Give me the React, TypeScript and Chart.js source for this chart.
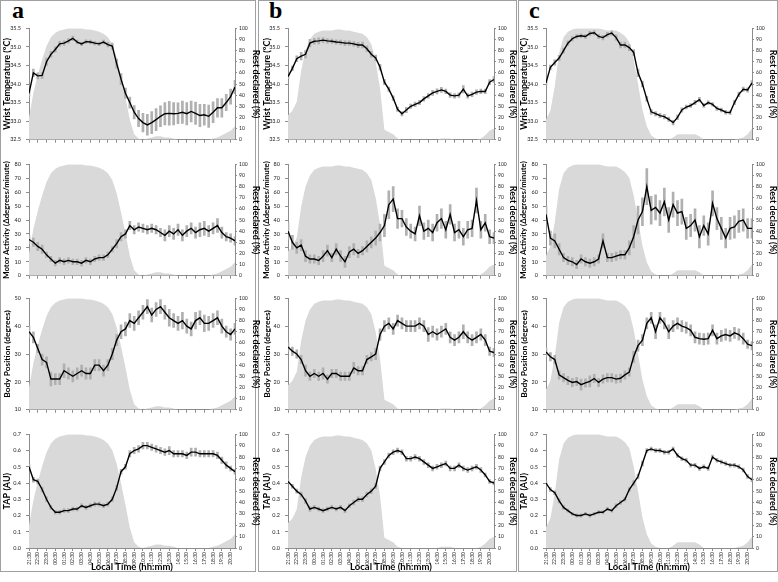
import React, { useEffect, useRef } from "react";
import { Chart, registerables } from "chart.js";

Chart.register(...registerables);

// ---------- data ----------
const TIMES = [
  "21:30", "22:00", "22:30", "23:00", "23:30", "00:00", "00:30", "01:00", "01:30", "02:00",
  "02:30", "03:00", "03:30", "04:00", "04:30", "05:00", "05:30", "06:00", "06:30", "07:00",
  "07:30", "08:00", "08:30", "09:00", "09:30", "10:00", "10:30", "11:00", "11:30", "12:00",
  "12:30", "13:00", "13:30", "14:00", "14:30", "15:00", "15:30", "16:00", "16:30", "17:00",
  "17:30", "18:00", "18:30", "19:00", "19:30", "20:00", "20:30", "21:00",
];
const TIME_TICKS = [
  "21:30", "22:30", "23:30", "00:30", "01:30", "02:30", "03:30", "04:30", "05:30", "06:30",
  "07:30", "08:30", "09:30", "10:30", "11:30", "12:30", "13:30", "14:30", "15:30", "16:30",
  "17:30", "18:30", "19:30", "20:30",
];

const PANEL_LABELS = ["a", "b", "c"];
const ROW_TITLES = [
  "Wrist Temperature (ºC)",
  "Motor Activity (Δdegrees/minute)",
  "Body Position (degrees)",
  "TAP (AU)",
];
const ROW_MIN = [32.5, 0, 10, 0];
const ROW_MAX = [35.5, 80, 50, 0.7];
const ROW_STEP = [0.5, 10, 10, 0.1];
const ROW_DECIMALS = [1, 0, 0, 1];
const REST_TITLE = "Rest declared (%)";
const X_TITLE = "Local Time (hh:mm)";

// Rest declared (%) per group
const REST_A = [20, 42, 58, 72, 84, 92, 96, 98, 99, 100, 100, 100, 100, 99, 99, 98, 97, 95, 92, 86, 74, 57, 38, 18, 5, 1, 0, 1, 2, 3, 3, 2, 2, 1, 0, 0, 0, 0, 0, 0, 0, 0, 1, 2, 4, 6, 8, 12];
const REST_B = [22, 26, 34, 62, 80, 90, 95, 97, 98, 98, 98, 99, 99, 98, 98, 97, 96, 95, 92, 86, 70, 46, 9, 7, 5, 1, 0, 0, 0, 0, 0, 0, 0, 0, 0, 1, 1, 1, 0, 0, 0, 0, 0, 0, 1, 4, 8, 10];
const REST_C = [18, 26, 48, 78, 92, 97, 99, 100, 100, 100, 100, 100, 100, 99, 98, 98, 98, 96, 93, 88, 72, 50, 27, 12, 4, 1, 0, 0, 0, 2, 5, 5, 5, 5, 5, 3, 0, 0, 0, 0, 0, 0, 0, 0, 1, 2, 5, 10];

// Group a
const TEMP_A = [33.75, 34.3, 34.22, 34.23, 34.6, 34.8, 34.93, 35.08, 35.1, 35.16, 35.23, 35.13, 35.08, 35.14, 35.13, 35.1, 35.08, 35.13, 35.06, 35.02, 34.55, 34.13, 33.75, 33.5, 33.24, 33.07, 32.96, 32.9, 32.96, 33.04, 33.13, 33.2, 33.21, 33.2, 33.21, 33.24, 33.2, 33.26, 33.21, 33.15, 33.17, 33.13, 33.24, 33.36, 33.36, 33.5, 33.66, 33.92];
const TEMP_A_ERR = [0.08, 0.1, 0.08, 0.08, 0.1, 0.08, 0.07, 0.07, 0.06, 0.06, 0.06, 0.05, 0.05, 0.05, 0.05, 0.05, 0.05, 0.05, 0.06, 0.08, 0.12, 0.15, 0.14, 0.15, 0.18, 0.22, 0.25, 0.28, 0.3, 0.3, 0.28, 0.3, 0.32, 0.3, 0.28, 0.3, 0.3, 0.28, 0.3, 0.3, 0.28, 0.3, 0.28, 0.25, 0.25, 0.22, 0.2, 0.18];
const MOTOR_A = [26, 24, 21, 19, 15, 12, 9, 11, 10, 11, 10, 10, 9, 11, 10, 12, 13, 13, 15, 19, 23, 28, 30, 36, 33, 35, 34, 33, 34, 33, 31, 29, 32, 30, 33, 29, 32, 34, 31, 33, 34, 32, 34, 36, 31, 28, 27, 25];
const MOTOR_A_ERR = [3, 3, 3, 3, 2, 2, 2, 2, 2, 2, 2, 2, 2, 2, 2, 2, 2, 2, 2, 2, 3, 3, 3, 3, 3, 3, 3, 3, 3, 3, 3, 4, 4, 4, 4, 4, 4, 4, 4, 5, 5, 4, 4, 5, 4, 3, 3, 3];
const BODY_A = [38, 36, 32, 28, 27, 21, 21, 21, 24, 23, 22, 23, 24, 23, 23, 26, 26, 24, 26, 30, 35, 38, 39, 42, 41, 43, 45, 47, 44, 46, 47, 45, 43, 42, 41, 42, 40, 39, 42, 43, 41, 41, 42, 43, 40, 38, 37, 39];
const BODY_A_ERR = [2, 2, 1.5, 2, 2, 2.5, 2, 2, 2.5, 2, 2, 2, 2, 2, 2, 2, 2, 2, 2, 2, 2, 2.5, 2.5, 2.5, 2.5, 2.5, 2.5, 2.5, 2.5, 2.5, 2.5, 2.5, 3, 2.5, 2.5, 3, 2.5, 2.5, 3, 2.5, 3, 2.5, 2.5, 2.5, 2.5, 2, 2, 2];
const TAP_A = [0.5, 0.42, 0.41, 0.36, 0.3, 0.25, 0.22, 0.22, 0.23, 0.23, 0.24, 0.24, 0.26, 0.25, 0.26, 0.27, 0.27, 0.26, 0.27, 0.3, 0.37, 0.47, 0.5, 0.58, 0.6, 0.61, 0.63, 0.63, 0.62, 0.61, 0.6, 0.59, 0.6, 0.58, 0.58, 0.58, 0.57, 0.59, 0.59, 0.58, 0.58, 0.58, 0.58, 0.57, 0.54, 0.51, 0.49, 0.47];
const TAP_A_ERR = [0.015, 0.015, 0.015, 0.015, 0.015, 0.012, 0.012, 0.012, 0.012, 0.012, 0.012, 0.012, 0.012, 0.012, 0.012, 0.012, 0.012, 0.012, 0.012, 0.015, 0.015, 0.015, 0.015, 0.02, 0.02, 0.02, 0.02, 0.02, 0.02, 0.02, 0.02, 0.02, 0.025, 0.02, 0.02, 0.02, 0.02, 0.025, 0.025, 0.02, 0.02, 0.02, 0.02, 0.02, 0.02, 0.02, 0.015, 0.015];

// Group b
const TEMP_B = [34.2, 34.42, 34.68, 34.75, 34.8, 35.1, 35.15, 35.16, 35.18, 35.16, 35.15, 35.13, 35.12, 35.1, 35.1, 35.08, 35.05, 35.05, 34.95, 34.8, 34.7, 34.45, 34.05, 33.86, 33.62, 33.32, 33.2, 33.3, 33.4, 33.45, 33.5, 33.6, 33.68, 33.76, 33.8, 33.84, 33.8, 33.7, 33.68, 33.7, 33.86, 33.68, 33.72, 33.78, 33.8, 33.8, 34.05, 34.12];
const TEMP_B_ERR = [0.05, 0.06, 0.08, 0.1, 0.1, 0.1, 0.08, 0.08, 0.07, 0.06, 0.06, 0.06, 0.06, 0.06, 0.06, 0.06, 0.07, 0.08, 0.08, 0.08, 0.08, 0.08, 0.07, 0.06, 0.06, 0.06, 0.06, 0.07, 0.06, 0.06, 0.06, 0.06, 0.06, 0.07, 0.07, 0.07, 0.06, 0.06, 0.06, 0.06, 0.1, 0.06, 0.06, 0.06, 0.06, 0.06, 0.07, 0.08];
const MOTOR_B = [32, 24, 20, 22, 14, 12, 12, 11, 14, 18, 13, 19, 14, 10, 17, 19, 16, 18, 21, 24, 27, 31, 36, 51, 55, 41, 41, 35, 32, 30, 43, 32, 34, 31, 38, 41, 33, 44, 31, 33, 28, 33, 34, 54, 33, 38, 28, 27];
const MOTOR_B_ERR = [6, 5, 4, 4, 4, 3, 3, 3, 4, 4, 3, 4, 4, 4, 4, 4, 3, 3, 4, 4, 5, 6, 8, 10, 9, 7, 6, 6, 5, 5, 7, 6, 6, 6, 6, 7, 6, 7, 6, 6, 6, 6, 6, 9, 6, 6, 5, 4];
const BODY_B = [32.5, 31, 30, 28, 24, 22, 23, 22, 23, 21, 23, 23, 22, 22, 22, 25, 24, 24, 28, 29, 30, 37, 40, 41, 39, 42, 41, 40, 40, 40, 41, 40, 37, 38, 37, 38, 39, 36, 35, 36, 38, 36, 35, 36, 37, 35, 31, 30.5];
const BODY_B_ERR = [1.5, 1.5, 1.5, 1.5, 2, 1.5, 1.5, 1.5, 2, 1.5, 1.5, 1.5, 1.5, 1.5, 1.5, 2, 1.5, 1.5, 1.5, 1.5, 2, 2, 2, 2, 2, 2, 2, 2, 2, 2, 2, 2, 2.5, 2, 2, 2, 2, 2, 2, 2, 2.5, 2, 2, 2, 2, 2, 1.5, 1.5];
const TAP_B = [0.41, 0.38, 0.35, 0.33, 0.29, 0.24, 0.25, 0.24, 0.23, 0.24, 0.25, 0.24, 0.25, 0.23, 0.26, 0.28, 0.3, 0.3, 0.33, 0.35, 0.38, 0.49, 0.53, 0.57, 0.59, 0.6, 0.59, 0.55, 0.55, 0.56, 0.55, 0.53, 0.51, 0.49, 0.5, 0.51, 0.52, 0.49, 0.49, 0.51, 0.49, 0.48, 0.49, 0.5, 0.48, 0.45, 0.41, 0.4];
const TAP_B_ERR = [0.012, 0.012, 0.012, 0.015, 0.015, 0.015, 0.012, 0.012, 0.012, 0.012, 0.012, 0.012, 0.012, 0.012, 0.012, 0.015, 0.015, 0.015, 0.015, 0.015, 0.015, 0.015, 0.015, 0.015, 0.015, 0.015, 0.015, 0.015, 0.015, 0.015, 0.015, 0.015, 0.015, 0.015, 0.015, 0.015, 0.015, 0.015, 0.015, 0.015, 0.015, 0.015, 0.015, 0.015, 0.015, 0.012, 0.012, 0.012];

// Group c
const TEMP_C = [34.03, 34.45, 34.58, 34.7, 34.9, 35.1, 35.22, 35.28, 35.3, 35.28, 35.36, 35.38, 35.28, 35.25, 35.33, 35.37, 35.25, 35.05, 35.05, 34.98, 34.85, 34.3, 34.0, 33.6, 33.25, 33.2, 33.15, 33.12, 33.05, 32.96, 33.1, 33.3, 33.38, 33.42, 33.5, 33.58, 33.42, 33.5, 33.45, 33.34, 33.3, 33.24, 33.23, 33.5, 33.72, 33.86, 33.84, 34.03];
const TEMP_C_ERR = [0.05, 0.06, 0.07, 0.07, 0.07, 0.06, 0.06, 0.05, 0.05, 0.05, 0.06, 0.06, 0.06, 0.06, 0.06, 0.06, 0.07, 0.08, 0.08, 0.08, 0.08, 0.1, 0.08, 0.07, 0.07, 0.06, 0.06, 0.06, 0.06, 0.06, 0.06, 0.06, 0.05, 0.05, 0.06, 0.06, 0.05, 0.05, 0.05, 0.05, 0.05, 0.05, 0.05, 0.06, 0.06, 0.06, 0.06, 0.06];
const MOTOR_C = [44, 27, 25, 19, 13, 11, 10, 8, 12, 10, 9, 10, 12, 25, 13, 13, 14, 15, 15, 20, 28, 40, 46, 64, 47, 49, 45, 53, 40, 51, 45, 46, 34, 36, 40, 28, 36, 30, 52, 41, 34, 27, 34, 35, 39, 40, 34, 34];
const MOTOR_C_ERR = [6, 5, 5, 4, 3, 3, 3, 3, 3, 3, 3, 3, 3, 5, 3, 3, 3, 3, 3, 5, 8, 10, 10, 13, 10, 9, 9, 10, 9, 9, 9, 9, 8, 8, 8, 8, 7, 8, 9, 8, 8, 7, 8, 8, 8, 8, 7, 7];
const BODY_C = [30.7, 29, 28, 22.5, 21.5, 20.5, 19.8, 20.1, 19, 19.6, 20.2, 21.2, 19.8, 21, 21.5, 21.5, 21, 21.3, 22.5, 23.5, 29, 33, 35, 41, 43, 38, 43, 41, 38, 40, 41, 40, 39.5, 38.5, 36, 35.5, 35.3, 35.5, 38.5, 35.5, 36.5, 37, 36.5, 37.6, 37, 35.5, 33.5, 33];
const BODY_C_ERR = [1.5, 1.5, 1.5, 1.5, 1.5, 1.5, 1.5, 1.5, 2, 1.5, 2, 1.5, 1.5, 1.5, 1.5, 1.5, 1.5, 1.5, 1.5, 1.5, 2, 2, 2, 2, 2, 2.5, 2, 2, 2.5, 2, 2, 2, 2, 2, 2, 2, 2, 2, 2, 2, 2, 2, 2, 2, 2, 2, 1.5, 1.5];
const TAP_C = [0.4, 0.36, 0.34, 0.29, 0.25, 0.23, 0.21, 0.2, 0.2, 0.21, 0.2, 0.21, 0.22, 0.22, 0.24, 0.23, 0.26, 0.28, 0.3, 0.36, 0.4, 0.44, 0.52, 0.6, 0.61, 0.6, 0.6, 0.59, 0.59, 0.61, 0.57, 0.55, 0.54, 0.51, 0.51, 0.49, 0.5, 0.49, 0.56, 0.54, 0.53, 0.52, 0.51, 0.51, 0.5, 0.48, 0.44, 0.42];
const TAP_C_ERR = [0.012, 0.012, 0.012, 0.012, 0.012, 0.01, 0.01, 0.01, 0.01, 0.01, 0.01, 0.01, 0.01, 0.01, 0.01, 0.01, 0.012, 0.012, 0.012, 0.012, 0.015, 0.015, 0.015, 0.012, 0.012, 0.012, 0.012, 0.012, 0.012, 0.012, 0.012, 0.012, 0.012, 0.012, 0.012, 0.012, 0.012, 0.012, 0.012, 0.012, 0.012, 0.012, 0.012, 0.012, 0.012, 0.012, 0.012, 0.012];

const SERIES = [
  [TEMP_A, MOTOR_A, BODY_A, TAP_A],
  [TEMP_B, MOTOR_B, BODY_B, TAP_B],
  [TEMP_C, MOTOR_C, BODY_C, TAP_C],
];
const ERRORS = [
  [TEMP_A_ERR, MOTOR_A_ERR, BODY_A_ERR, TAP_A_ERR],
  [TEMP_B_ERR, MOTOR_B_ERR, BODY_B_ERR, TAP_B_ERR],
  [TEMP_C_ERR, MOTOR_C_ERR, BODY_C_ERR, TAP_C_ERR],
];
const RESTS = [REST_A, REST_B, REST_C];

function parseHour(t: string): number {
  const [h, m] = t.split(":").map(Number);
  const v = h + m / 60;
  return v < 21.5 ? v + 24 : v;
}
const X_VALUES = TIMES.map(parseHour);
const X_TICK_VALUES = TIME_TICKS.map(parseHour);

// ---------- layout ----------
const COL_GEOM = [
  { left: 3, axisL: 29, axisR: 235, right: 260, box: 0, boxW: 256, letter: 12 },
  { left: 263, axisL: 288, axisR: 494, right: 517, box: 258, boxW: 259, letter: 269 },
  { left: 520, axisL: 546, axisR: 752, right: 777, box: 518, boxW: 260, letter: 529 },
];
const AREA_TOPS = [26, 162, 296, 432];
const AREA_H = 116;
const PAD_TOP = 6;
const TITLE_SIZES = [9, 7.8, 8.4, 9];
const FONT = "Lato, 'Open Sans', sans-serif";
const AXIS_COLOR = "#8c8c8c";
const TICK_COLOR = "#222";

function Panel({ col, row }: { col: number; row: number }) {
  const ref = useRef<HTMLCanvasElement>(null);
  const g = COL_GEOM[col];
  const isBottom = row === 3;
  const xh = isBottom ? 24 : 6;
  const width = g.right - g.left;
  const height = PAD_TOP + AREA_H + xh;

  useEffect(() => {
    const mean = SERIES[col][row];
    const err = ERRORS[col][row];
    const rest = RESTS[col];
    const dec = ROW_DECIMALS[row];
    const chart = new Chart(ref.current as HTMLCanvasElement, {
      type: "line",
      data: {
        datasets: [
          {
            type: "line",
            data: X_VALUES.map((x, i) => ({ x, y: rest[i] })),
            yAxisID: "y2",
            fill: "origin",
            backgroundColor: "#d9d9d9",
            borderColor: "rgba(0,0,0,0)",
            borderWidth: 0,
            pointRadius: 0,
            order: 3,
          } as any,
          {
            type: "bar",
            data: X_VALUES.map((x, i) => ({ x, y: [mean[i] - err[i], mean[i] + err[i]] })),
            yAxisID: "y",
            backgroundColor: "#b0b0b0",
            barThickness: 2,
            order: 2,
          } as any,
          {
            type: "line",
            data: X_VALUES.map((x, i) => ({ x, y: mean[i] })),
            yAxisID: "y",
            borderColor: "#000",
            borderWidth: 1.4,
            pointRadius: 0,
            fill: false,
            tension: 0,
            order: 1,
          } as any,
        ],
      },
      options: {
        animation: false,
        responsive: false,
        events: [],
        layout: { padding: { top: PAD_TOP, left: 0, right: 0, bottom: 0 } },
        plugins: { legend: { display: false }, tooltip: { enabled: false } },
        scales: {
          x: {
            type: "linear",
            min: 21.5,
            max: 45,
            offset: false,
            afterBuildTicks: (s: any) => {
              s.ticks = X_TICK_VALUES.map((v) => ({ value: v }));
            },
            afterFit: (s: any) => {
              s.height = xh;
            },
            grid: { display: true, drawOnChartArea: false, drawTicks: true, tickLength: 3, color: AXIS_COLOR, offset: false },
            border: { display: true, color: AXIS_COLOR, width: 1 },
            ticks: {
              display: isBottom,
              autoSkip: false,
              minRotation: 90,
              maxRotation: 90,
              padding: 1,
              color: TICK_COLOR,
              font: { family: FONT, size: 5 },
              callback: (_v: any, i: number) => TIME_TICKS[i],
            },
            title: {
              display: isBottom,
              text: X_TITLE,
              color: "#000",
              padding: 0,
              font: { family: FONT, size: 9.5, weight: "bold", lineHeight: 1 },
            },
          } as any,
          y: {
            position: "left",
            min: ROW_MIN[row],
            max: ROW_MAX[row],
            afterFit: (s: any) => {
              s.width = g.axisL - g.left;
            },
            grid: { display: true, drawOnChartArea: false, drawTicks: true, tickLength: 3, color: AXIS_COLOR },
            border: { display: true, color: AXIS_COLOR, width: 1 },
            ticks: {
              stepSize: ROW_STEP[row],
              padding: 5,
              color: TICK_COLOR,
              font: { family: FONT, size: 5.5 },
              callback: (v: any) => Number(v).toFixed(dec),
            },
            title: {
              display: true,
              text: ROW_TITLES[row],
              color: "#000",
              padding: 0,
              font: { family: FONT, size: TITLE_SIZES[row], weight: "bold", lineHeight: 1 },
            },
          } as any,
          y2: {
            position: "right",
            min: 0,
            max: 100,
            afterFit: (s: any) => {
              s.width = g.right - g.axisR;
            },
            grid: { display: true, drawOnChartArea: false, drawTicks: true, tickLength: 2, color: AXIS_COLOR },
            border: { display: true, color: AXIS_COLOR, width: 1 },
            ticks: {
              stepSize: 10,
              padding: 2,
              color: TICK_COLOR,
              font: { family: FONT, size: 5 },
            },
            title: {
              display: true,
              text: REST_TITLE,
              color: "#000",
              padding: 0,
              font: { family: FONT, size: 9, weight: "bold", lineHeight: 1 },
            },
          } as any,
        },
      } as any,
    });
    return () => chart.destroy();
  }, [col, row]);

  return (
    <canvas
      ref={ref}
      width={width}
      height={height}
      style={{ position: "absolute", left: g.left, top: AREA_TOPS[row] - PAD_TOP, width, height }}
    />
  );
}

export default function App() {
  return (
    <div
      style={{
        position: "absolute",
        left: 0,
        top: 0,
        width: 778,
        height: 582,
        background: "#fff",
        overflow: "hidden",
      }}
    >
      {COL_GEOM.map((g, c) => (
        <div
          key={"box" + c}
          style={{
            position: "absolute",
            left: g.box,
            top: 0,
            width: g.boxW,
            height: 572,
            border: "1px solid #a0a0a0",
            boxSizing: "border-box",
          }}
        />
      ))}
      {COL_GEOM.map((g, c) => (
        <div
          key={"lbl" + c}
          style={{
            position: "absolute",
            left: g.letter,
            top: -2,
            fontFamily: "'Liberation Serif', 'Times New Roman', serif",
            fontWeight: "bold",
            fontSize: 24,
            lineHeight: "24px",
            color: "#000",
          }}
        >
          {PANEL_LABELS[c]}
        </div>
      ))}
      {[0, 1, 2].map((c) =>
        [0, 1, 2, 3].map((r) => <Panel key={c + "-" + r} col={c} row={r} />)
      )}
    </div>
  );
}
